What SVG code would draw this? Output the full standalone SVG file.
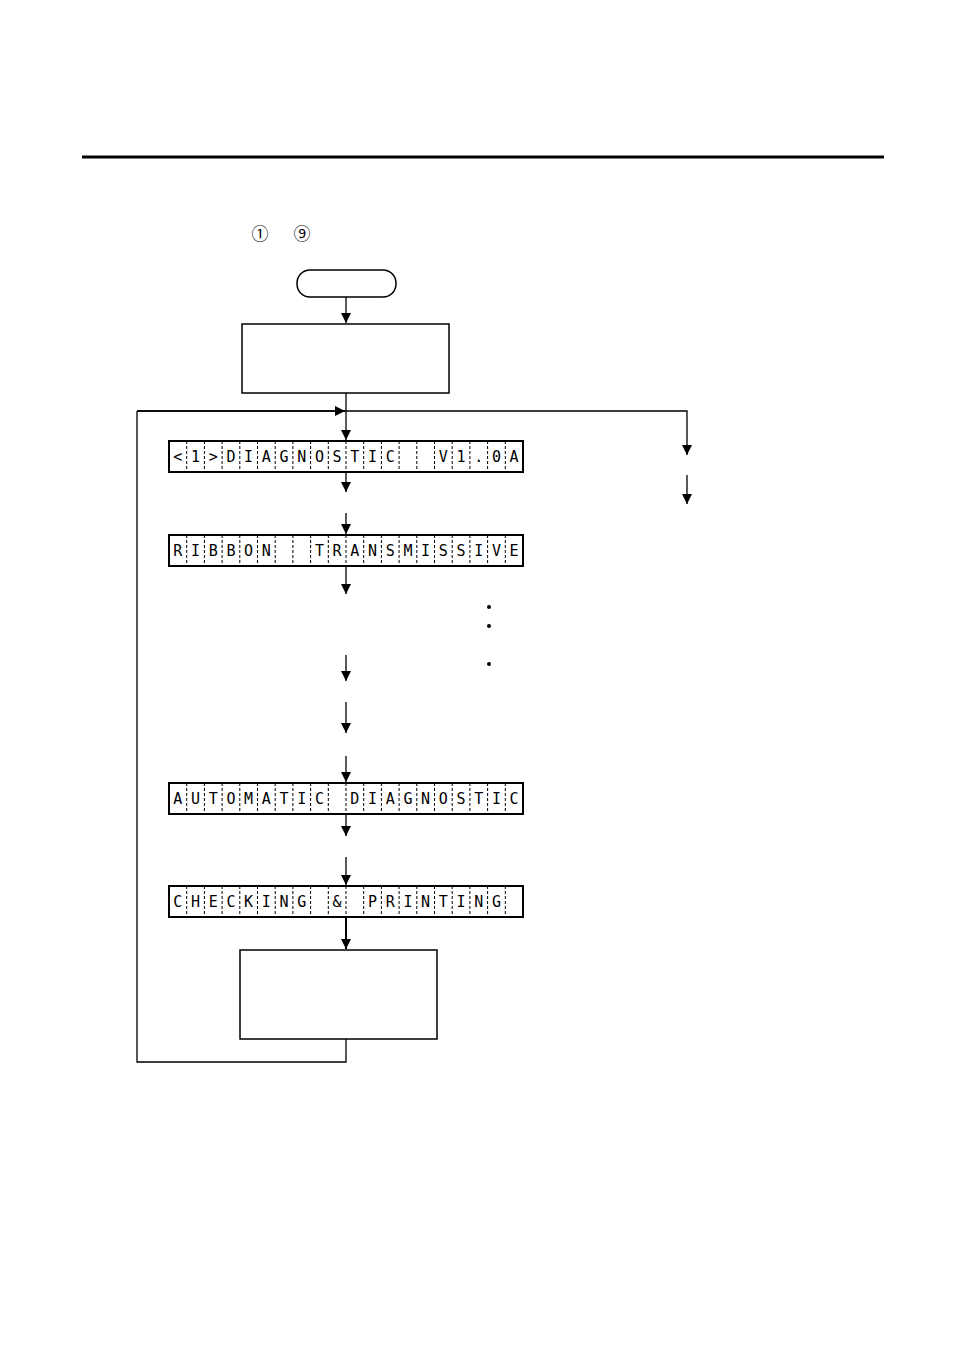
<svg xmlns="http://www.w3.org/2000/svg" width="954" height="1348" viewBox="0 0 954 1348">
<style>
.l{stroke:#000;stroke-width:1.3;fill:none}
.b{stroke:#000;stroke-width:2;fill:#fff}
.d{stroke:#000;stroke-width:1;stroke-dasharray:3,2}
.t{font-family:"DejaVu Sans Mono","Liberation Mono",monospace;font-size:15px;text-anchor:middle;fill:#000}
.c{font-family:"Noto Sans CJK JP","DejaVu Sans",sans-serif;font-size:17px;text-anchor:middle;fill:#000}
</style>
<defs>
<marker id="a" viewBox="0 0 10 10" refX="10" refY="5" markerWidth="10" markerHeight="10" markerUnits="userSpaceOnUse" orient="auto"><path d="M0,0L10,5L0,10z"/></marker>
<g id="cells">
<rect x="0" y="0" width="354" height="31" class="b"/>
<path class="d" d="M17.7,0V31M35.4,0V31M53.1,0V31M70.8,0V31M88.5,0V31M106.2,0V31M123.9,0V31M141.6,0V31M159.3,0V31M177,0V31M194.7,0V31M212.4,0V31M230.1,0V31M247.8,0V31M265.5,0V31M283.2,0V31M300.9,0V31M318.6,0V31M336.3,0V31"/>
</g>
</defs>
<rect x="82" y="155.5" width="802" height="3" fill="#000"/>
<text x="260" y="240" class="c">①</text>
<text x="302" y="240" class="c">⑨</text>
<g id="connectors">
<path class="l" d="M346,297V323" marker-end="url(#a)"/>
<path class="l" d="M346,393V440" marker-end="url(#a)"/>
<path class="l" d="M137,411H346H687V455" marker-end="url(#a)"/>
<path class="l" d="M137,411H345" marker-end="url(#a)"/>
<path class="l" d="M137,411V1062H346V1039"/>
<path class="l" d="M687,475V504" marker-end="url(#a)"/>
<path class="l" d="M346,472V492" marker-end="url(#a)"/>
<path class="l" d="M346,513V534" marker-end="url(#a)"/>
<path class="l" d="M346,566V594" marker-end="url(#a)"/>
<path class="l" d="M346,655V681" marker-end="url(#a)"/>
<path class="l" d="M346,702V733" marker-end="url(#a)"/>
<path class="l" d="M346,756V782" marker-end="url(#a)"/>
<path class="l" d="M346,814V836" marker-end="url(#a)"/>
<path class="l" d="M346,857V885" marker-end="url(#a)"/>
<path class="l" style="stroke-width:2" d="M346,917V949" marker-end="url(#a)"/>
</g>
<g id="start"><rect x="297" y="270" width="99" height="27" rx="13" class="b" style="stroke-width:1.5"/></g>
<g id="box1"><rect x="242" y="324" width="207" height="69" class="b" style="stroke-width:1.5"/></g>
<g id="lcd1"><use href="#cells" x="169" y="441"/>
<text class="t" y="462"><tspan x="177.8">&lt;</tspan><tspan x="195.5">1</tspan><tspan x="213.2">&gt;</tspan><tspan x="230.9">D</tspan><tspan x="248.6">I</tspan><tspan x="266.3">A</tspan><tspan x="284">G</tspan><tspan x="301.7">N</tspan><tspan x="319.4">O</tspan><tspan x="337.1">S</tspan><tspan x="354.8">T</tspan><tspan x="372.5">I</tspan><tspan x="390.2">C</tspan><tspan x="443.3">V</tspan><tspan x="461">1</tspan><tspan x="478.7">.</tspan><tspan x="496.4">0</tspan><tspan x="514.1">A</tspan></text></g>
<g id="lcd2"><use href="#cells" x="169" y="535"/>
<text class="t" y="556"><tspan x="177.8">R</tspan><tspan x="195.5">I</tspan><tspan x="213.2">B</tspan><tspan x="230.9">B</tspan><tspan x="248.6">O</tspan><tspan x="266.3">N</tspan><tspan x="319.4">T</tspan><tspan x="337.1">R</tspan><tspan x="354.8">A</tspan><tspan x="372.5">N</tspan><tspan x="390.2">S</tspan><tspan x="407.9">M</tspan><tspan x="425.6">I</tspan><tspan x="443.3">S</tspan><tspan x="461">S</tspan><tspan x="478.7">I</tspan><tspan x="496.4">V</tspan><tspan x="514.1">E</tspan></text></g>
<g id="dots"><circle cx="489" cy="607" r="2"/><circle cx="489" cy="626" r="2"/><circle cx="489" cy="664" r="2"/></g>
<g id="lcd3"><use href="#cells" x="169" y="783"/>
<text class="t" y="804"><tspan x="177.8">A</tspan><tspan x="195.5">U</tspan><tspan x="213.2">T</tspan><tspan x="230.9">O</tspan><tspan x="248.6">M</tspan><tspan x="266.3">A</tspan><tspan x="284">T</tspan><tspan x="301.7">I</tspan><tspan x="319.4">C</tspan><tspan x="354.8">D</tspan><tspan x="372.5">I</tspan><tspan x="390.2">A</tspan><tspan x="407.9">G</tspan><tspan x="425.6">N</tspan><tspan x="443.3">O</tspan><tspan x="461">S</tspan><tspan x="478.7">T</tspan><tspan x="496.4">I</tspan><tspan x="514.1">C</tspan></text></g>
<g id="lcd4"><use href="#cells" x="169" y="886"/>
<text class="t" y="907"><tspan x="177.8">C</tspan><tspan x="195.5">H</tspan><tspan x="213.2">E</tspan><tspan x="230.9">C</tspan><tspan x="248.6">K</tspan><tspan x="266.3">I</tspan><tspan x="284">N</tspan><tspan x="301.7">G</tspan><tspan x="337.1">&amp;</tspan><tspan x="372.5">P</tspan><tspan x="390.2">R</tspan><tspan x="407.9">I</tspan><tspan x="425.6">N</tspan><tspan x="443.3">T</tspan><tspan x="461">I</tspan><tspan x="478.7">N</tspan><tspan x="496.4">G</tspan></text></g>
<g id="box2"><rect x="240" y="950" width="197" height="89" class="b" style="stroke-width:1.5"/></g>
</svg>
